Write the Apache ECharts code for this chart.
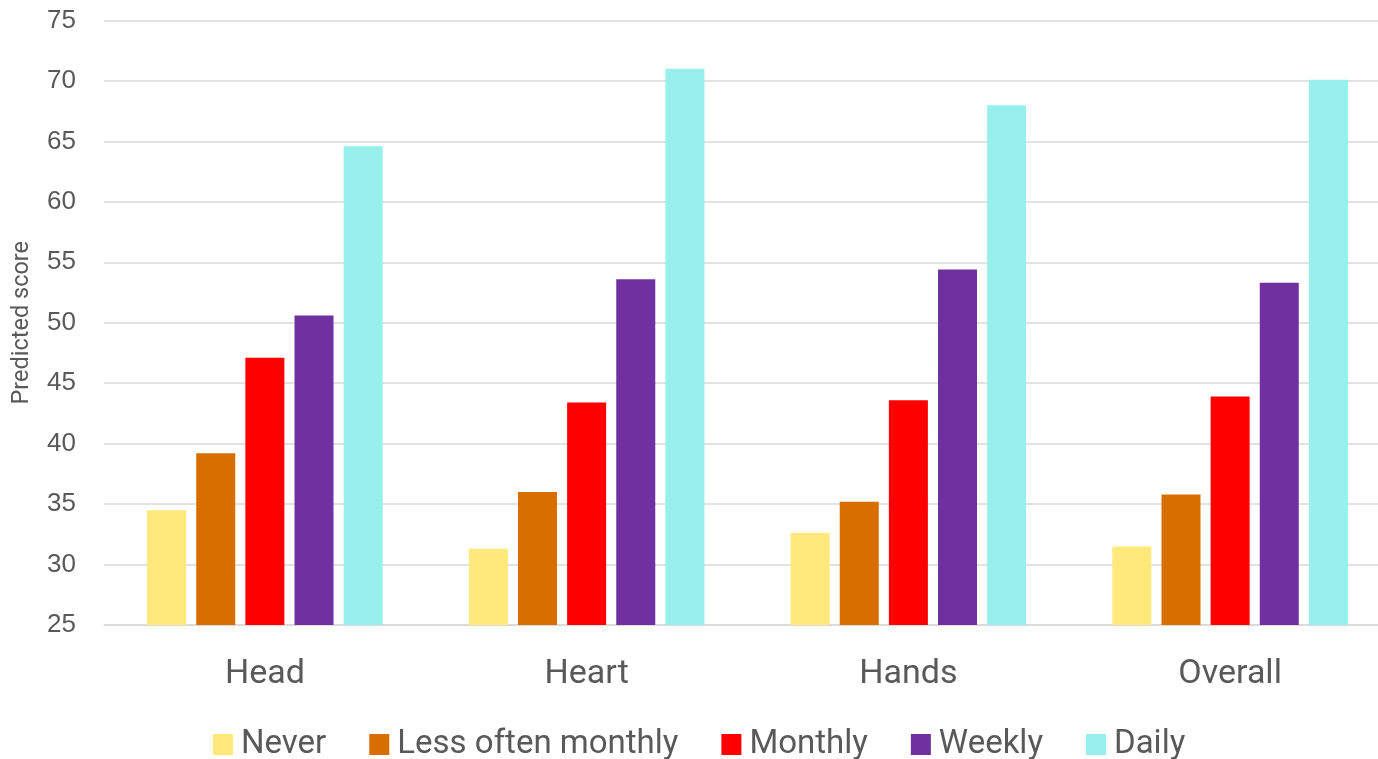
<!DOCTYPE html>
<html>
<head>
<meta charset="utf-8">
<script src="https://cdn.jsdelivr.net/npm/echarts@6/dist/echarts.min.js"></script>
<style>
html,body{margin:0;padding:0;background:#fff;}
#chart{width:1378px;height:759px;}
</style>
</head>
<body>
<div id="chart"></div>
<script>
const categories = ['Head', 'Heart', 'Hands', 'Overall'];
const seriesNames = ['Never', 'Less often monthly', 'Monthly', 'Weekly', 'Daily'];
const neverVals = [34.5, 31.3, 32.6, 31.5];
const lessOftenVals = [39.2, 36.0, 35.2, 35.8];
const monthlyVals = [47.1, 43.4, 43.6, 43.9];
const weeklyVals = [50.6, 53.6, 54.4, 53.3];
const dailyVals = [64.6, 71.0, 68.0, 70.1];
const colors = ['#FFE97A', '#D86E00', '#FF0000', '#7030A0', '#98F0EC'];
const yTicks = [25, 30, 35, 40, 45, 50, 55, 60, 65, 70, 75];

const allVals = [neverVals, lessOftenVals, monthlyVals, weeklyVals, dailyVals];
const textColor = '#595959';
const font = 'Roboto, "Liberation Sans", sans-serif';

const chart = echarts.init(document.getElementById('chart'), null, {renderer: 'canvas'});
chart.setOption({
  backgroundColor: '#ffffff',
  animation: false,
  grid: {left: 104, top: 20.5, width: 1287, bottom: 134, containLabel: false, outerBoundsMode: 'none'},
  legend: {
    data: seriesNames,
    left: 208,
    top: 723,
    icon: 'rect',
    itemWidth: 20,
    itemHeight: 21,
    itemGap: 43,
    textStyle: {color: textColor, fontSize: 33, fontFamily: font, padding: [0, 0, 0, 3]}
  },
  xAxis: {
    type: 'category',
    data: categories,
    axisLine: {show: true, lineStyle: {color: '#d9d9d9', width: 1.5}},
    axisTick: {show: false},
    axisLabel: {color: textColor, fontSize: 34, fontFamily: font, margin: 32}
  },
  yAxis: {
    type: 'value',
    min: yTicks[0],
    max: yTicks[yTicks.length - 1],
    interval: 5,
    name: 'Predicted score',
    nameLocation: 'middle',
    nameGap: 70,
    nameTextStyle: {color: textColor, fontSize: 23.5, fontFamily: font},
    axisLine: {show: false},
    axisTick: {show: false},
    axisLabel: {color: textColor, fontSize: 26, fontFamily: '"Liberation Sans", Arial, sans-serif', margin: 28},
    splitLine: {lineStyle: {color: '#d9d9d9', width: 1.5}}
  },
  series: seriesNames.map((n, i) => ({
    name: n,
    type: 'bar',
    data: allVals[i],
    barWidth: 39,
    barGap: '26%',
    itemStyle: {color: colors[i]}
  }))
});
</script>
</body>
</html>
